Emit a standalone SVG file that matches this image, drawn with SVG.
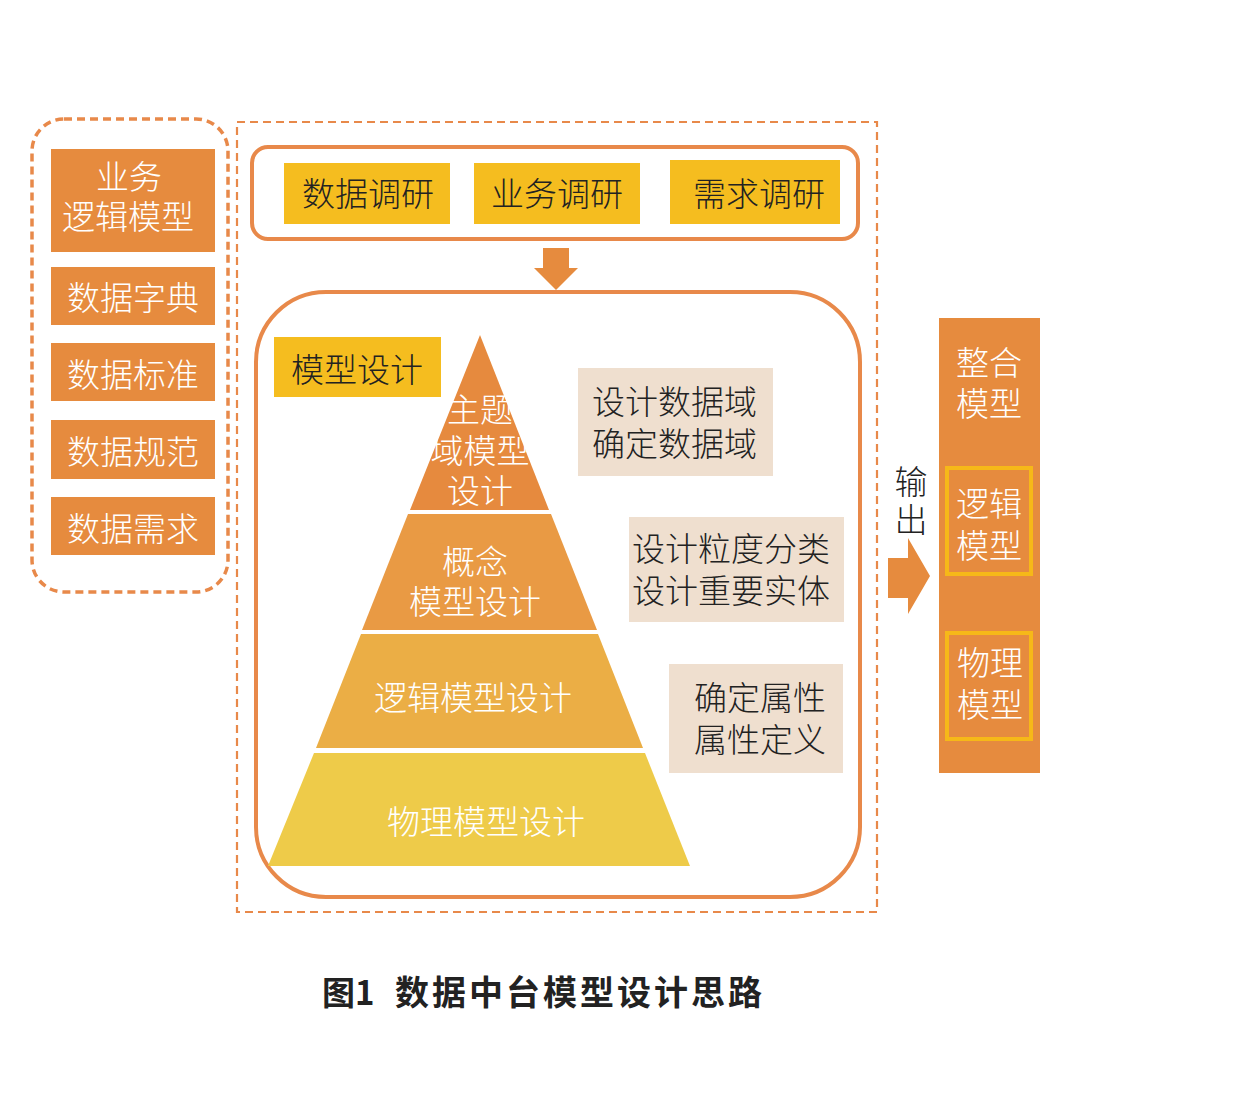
<svg xmlns="http://www.w3.org/2000/svg" width="1237" height="1110" viewBox="0 0 1237 1110">
<style>
text{font-family:"Noto Sans CJK SC","Noto Sans",sans-serif;font-weight:300;}
.w{fill:#fff;font-size:33px;text-anchor:middle;}
.k{fill:#222;font-size:33px;}
.km{fill:#222;font-size:33px;text-anchor:middle;}
.org{fill:#E68B3E;}
.yel{fill:#F5BD1F;}
.beige{fill:#EFDFCF;}
.dash{fill:none;stroke:#E8894A;stroke-dasharray:8 5;}
.solid{fill:#fff;stroke:#E8894A;stroke-width:4;}
.ybox{fill:none;stroke:#F6B818;stroke-width:4;}
</style>
<rect width="1237" height="1110" fill="#fff"/>

<g id="left-group">
<rect class="dash" x="32" y="119" width="196" height="473" rx="32" stroke-width="3.5"/>
<g id="n-ywljmx"><rect class="org" x="51" y="149" width="164" height="103"/><text class="w" x="129" y="189">业务</text><text class="w" x="128" y="229">逻辑模型</text></g>
<g id="n-sjzd"><rect class="org" x="51" y="267" width="164" height="58"/><text class="w" x="133" y="310">数据字典</text></g>
<g id="n-sjbz"><rect class="org" x="51" y="343" width="164" height="58"/><text class="w" x="133" y="387">数据标准</text></g>
<g id="n-sjgf"><rect class="org" x="51" y="420" width="164" height="59"/><text class="w" x="133" y="464">数据规范</text></g>
<g id="n-sjxq"><rect class="org" x="51" y="497" width="164" height="58"/><text class="w" x="133" y="541">数据需求</text></g>
</g>

<g id="main-group">
<rect class="dash" x="237" y="122" width="640" height="790" stroke-width="2.2"/>
<rect class="solid" x="252" y="147" width="606" height="92" rx="16"/>
<g id="n-sjdy"><rect class="yel" x="284" y="163" width="166" height="61"/><text class="km" x="368" y="206">数据调研</text></g>
<g id="n-ywdy"><rect class="yel" x="474" y="163" width="166" height="61"/><text class="km" x="557" y="206">业务调研</text></g>
<g id="n-xqdy"><rect class="yel" x="670" y="160" width="170" height="64"/><text class="km" x="759" y="206">需求调研</text></g>

<rect class="solid" x="256" y="292" width="604" height="605" rx="70"/>
<g id="n-mxsj"><rect class="yel" x="274" y="337" width="167" height="60"/><text class="km" x="357" y="382">模型设计</text></g>

<g id="pyramid">
<g id="n-ztymx"><polygon points="480,335 549,510 410,510" fill="#E68A3E"/>
<text class="w" font-size="32" x="480" y="422">主题</text><text class="w" font-size="32" x="480" y="463">域模型</text><text class="w" font-size="32" x="480" y="503">设计</text></g>
<g id="n-gnmx"><polygon points="408,514 551,514 597,630 362,630" fill="#E99A44"/>
<text class="w" font-size="32" x="475" y="574">概念</text><text class="w" font-size="32" x="475" y="614">模型设计</text></g>
<g id="n-ljmx"><polygon points="361,634 598,634 643,748 316,748" fill="#EBAE45"/>
<text class="w" font-size="32" x="473" y="710">逻辑模型设计</text></g>
<g id="n-wlmx"><polygon points="314,753 645,753 690,866 268,866" fill="#EECB49"/>
<text class="w" font-size="32" x="486" y="834">物理模型设计</text></g>
</g>

<g id="n-d1"><rect class="beige" x="578" y="368" width="195" height="108"/><text class="k" font-size="34" x="592" y="414">设计数据域</text><text class="k" font-size="34" x="592" y="456">确定数据域</text></g>
<g id="n-d2"><rect class="beige" x="629" y="517" width="215" height="105"/><text class="k" font-size="34" x="632" y="561">设计粒度分类</text><text class="k" font-size="34" x="632" y="603">设计重要实体</text></g>
<g id="n-d3"><rect class="beige" x="669" y="664" width="174" height="109"/><text class="k" font-size="34" x="694" y="710">确定属性</text><text class="k" font-size="34" x="694" y="752">属性定义</text></g>
</g>

<g id="connectors">
<polygon points="543,248 569,248 569,268 578,268 556,290 534,268 543,268" fill="#E68B3E"/>
<polygon points="888,558 908,558 908,538 930,576 908,614 908,598 888,598" fill="#E68B3E"/>
<text class="km" font-size="31" x="911" y="494">输</text>
<text class="km" font-size="31" x="911" y="532">出</text>
</g>

<g id="right-group">
<g id="n-zhmx"><rect class="org" x="939" y="318" width="101" height="455"/><text class="w" font-size="34" x="989" y="375">整合</text><text class="w" font-size="34" x="989" y="416">模型</text></g>
<g id="n-ljmx2"><rect class="ybox" x="947" y="468" width="84" height="106"/><text class="w" font-size="34" x="989" y="516">逻辑</text><text class="w" font-size="34" x="989" y="558">模型</text></g>
<g id="n-wlmx2"><rect class="ybox" x="947" y="633" width="84" height="106"/><text class="w" font-size="34" x="990" y="675">物理</text><text class="w" font-size="34" x="990" y="717">模型</text></g>
</g>

<g id="caption">
<text x="322" y="1005" font-size="33" font-weight="bold" fill="#222" style="font-weight:700">图1</text>
<text x="395" y="1005" font-size="34" fill="#222" style="font-weight:700" textLength="367" lengthAdjust="spacing">数据中台模型设计思路</text>
</g>
</svg>
